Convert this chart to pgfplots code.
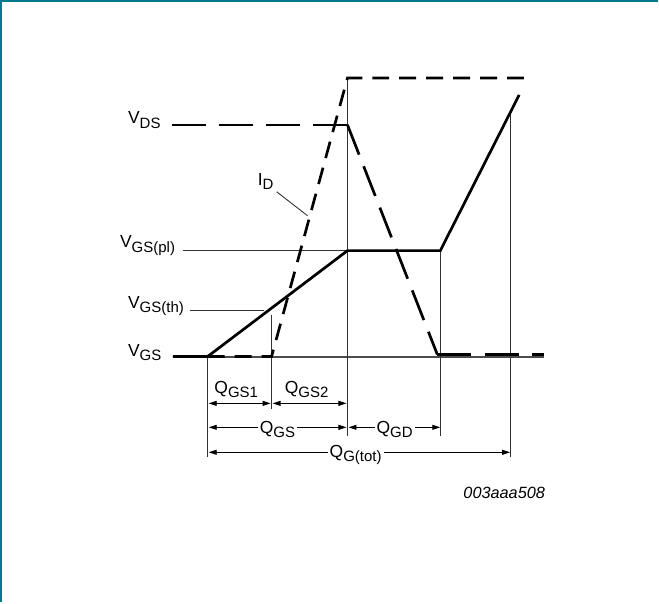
\documentclass[border=0pt]{standalone}
\usepackage{pgfplots}
\pgfplotsset{compat=1.18}
\usepackage{fontspec}
\setmainfont{Liberation Sans}
\usetikzlibrary{arrows.meta}
\definecolor{frame}{RGB}{0,122,140}
\newcommand\sub[1]{\raisebox{-4.3pt}{\fontsize{15}{16}\selectfont #1}}
\begin{document}
\begin{tikzpicture}[
  lbl/.style={anchor=base west, inner sep=0pt, font=\fontsize{17.5}{19}\selectfont},
  dim/.style={anchor=base west, inner xsep=2pt, inner ysep=0pt, fill=white, font=\fontsize{17.5}{19}\selectfont},
  guide/.style={black!80, line width=0.9pt},
  dimarrow/.style={black, line width=0.9pt, {Triangle[length=8pt,width=5pt]}-{Triangle[length=8pt,width=5pt]}},
]
\begin{axis}[
  width=659pt, height=603pt, scale only axis,
  xmin=0, xmax=659, ymin=0, ymax=603, y dir=reverse,
  hide axis, clip=false,
]
% frame
\addplot[frame, line width=2.2pt] coordinates {(1,603)(1,1)(659,1)};
% baseline and guide lines
\addplot[guide, black!70, line width=1.4pt] coordinates {(208,357.5)(545,357.5)};
\addplot[guide] coordinates {(348,78)(348,437)};
\addplot[guide] coordinates {(441,251)(441,437)};
\addplot[guide] coordinates {(511,113)(511,458)};
\addplot[guide] coordinates {(208,357)(208,458)};
\addplot[guide] coordinates {(272,315)(272,410)};
\addplot[guide] coordinates {(183,251)(348,251)};
\addplot[guide] coordinates {(190,311)(264,311)};
\addplot[guide] coordinates {(277,192)(308,216)};
% V_GS
\addplot[black, line width=2.7pt, line join=miter] coordinates {(173,357)(208,357)(348,251)(441,251)(520,95)};
% I_D
\addplot[black, line width=2.7pt, dash pattern=on 17pt off 10pt] coordinates {(208,357)(272,357)(348,78)(527,78)};
% V_DS, each segment dashed from its start
\addplot[black, line width=2.7pt, dash pattern=on 34pt off 13.3pt] coordinates {(172,125)(348,125)};
\addplot[black, line width=2.7pt, dash pattern=on 32pt off 12.5pt] coordinates {(348,125)(438,355)};
\addplot[black, line width=2.7pt, dash pattern=on 34pt off 13.5pt] coordinates {(438,355)(545,355)};
% charge dimensions
\addplot[dimarrow] coordinates {(209,404)(271,404)};
\addplot[dimarrow] coordinates {(273,404)(347,404)};
\addplot[dimarrow] coordinates {(209,428)(347,428)};
\addplot[dimarrow] coordinates {(349,428)(441,428)};
\addplot[dimarrow] coordinates {(209,453)(511,453)};
% labels
\node[lbl] at (axis cs:128,124) {V\sub{DS}};
\node[lbl] at (axis cs:258,185.5) {I\sub{D}};
\node[lbl] at (axis cs:120,248.3) {V\sub{GS(pl)}};
\node[lbl] at (axis cs:128,309) {V\sub{GS(th)}};
\node[lbl] at (axis cs:128,356.7) {V\sub{GS}};
\node[lbl] at (axis cs:214.5,394) {Q\sub{GS1}};
\node[lbl] at (axis cs:285,394) {Q\sub{GS2}};
\node[dim] at (axis cs:258,434) {Q\sub{GS}};
\node[dim] at (axis cs:375,434) {Q\sub{GD}};
\node[dim] at (axis cs:328,458) {Q\sub{G(tot)}};
\node[anchor=base east, inner sep=0pt, font=\fontsize{16.3}{18}\selectfont\itshape] at (axis cs:546,499) {003aaa508};
\end{axis}
\end{tikzpicture}
\end{document}
